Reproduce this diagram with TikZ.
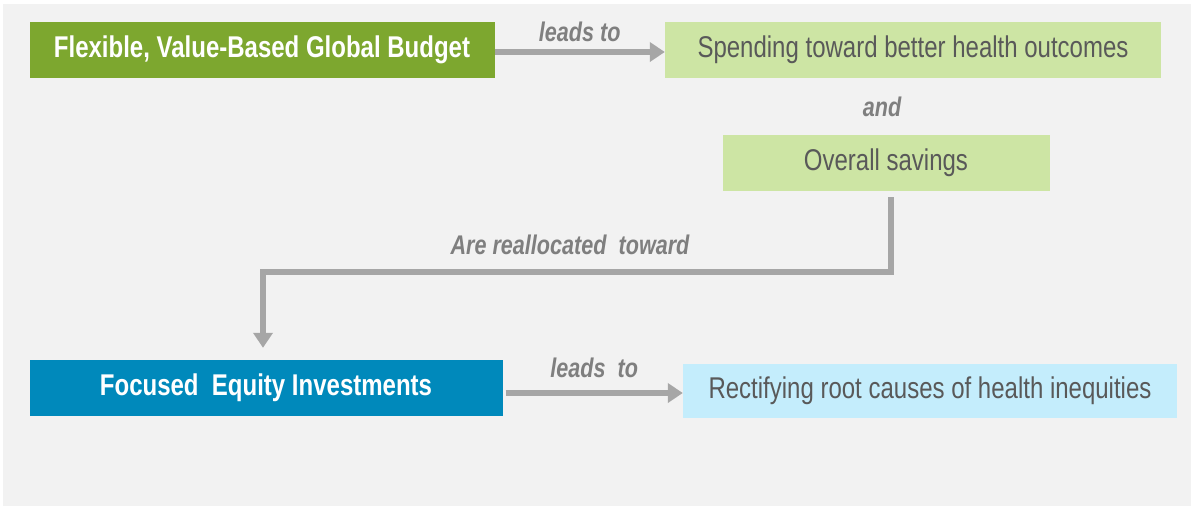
\documentclass[tikz,border=0pt]{standalone}
\usepackage{fontspec}
\setmainfont[FakeStretch=0.8]{Liberation Sans}
\usetikzlibrary{arrows.meta}
\definecolor{bg}{HTML}{F2F2F2}
\definecolor{dgreen}{HTML}{7DA72F}
\definecolor{lgreen}{HTML}{CDE5A4}
\definecolor{dblue}{HTML}{0089BB}
\definecolor{lblue}{HTML}{C4EDFC}
\definecolor{arr}{HTML}{A6A6A6}
\definecolor{txt}{HTML}{595959}
\definecolor{lbl}{HTML}{7F7F7F}
\tikzset{
  box/.style={minimum height=56pt, inner sep=0pt, font=\fontsize{30}{34}\selectfont},
  darkbox/.style={box, text=white, font=\fontsize{30}{34}\selectfont\bfseries},
  lightbox/.style={box, text=txt},
  conn/.style={draw=arr, line width=5.5pt, -{Triangle[length=15pt,width=19pt]}},
  lab/.style={text=lbl, font=\fontsize{27}{30}\selectfont\itshape\bfseries, inner sep=0pt},
}
\begin{document}
\begin{tikzpicture}[x=1pt,y=-1pt]
\useasboundingbox (0,0) rectangle (1193,507);
\fill[bg] (3,4) rectangle (1191,506);
\node[darkbox, fill=dgreen, minimum width=465pt] (b1) at (262,50) {Flexible, Value-Based Global Budget};
\node[lightbox, fill=lgreen, minimum width=496pt] (b2) at (913,50) {Spending toward better health outcomes};
\node[lab] (and) at (882,107) {and};
\node[lightbox, fill=lgreen, minimum width=327pt] (b3) at (886,163) {Overall savings};
\node[darkbox, fill=dblue, minimum width=473pt] (b4) at (266,388) {Focused\ \ Equity Investments};
\node[lightbox, fill=lblue, minimum width=494pt, minimum height=54pt] (b5) at (930,391) {Rectifying root causes of health inequities};
\draw[conn] ([yshift=-2pt]b1.east) -- ([yshift=-2pt]b2.west) node[lab, midway, above=7pt] {leads to};
\coordinate (c1) at (891,272);
\coordinate (c2) at (263,272);
\draw[conn] ([xshift=5pt,yshift=-6pt]b3.south) -- (c1) -- (c2) -- ([yshift=12pt]c2 |- b4.north);
\node[lab] at (570,245) {Are reallocated\ \ toward};
\draw[conn] ([xshift=3pt,yshift=-5pt]b4.east) -- ([yshift=-5pt]b4.east -| b5.west) node[lab, midway, above=12pt] {leads\ \ to};
\end{tikzpicture}
\end{document}
